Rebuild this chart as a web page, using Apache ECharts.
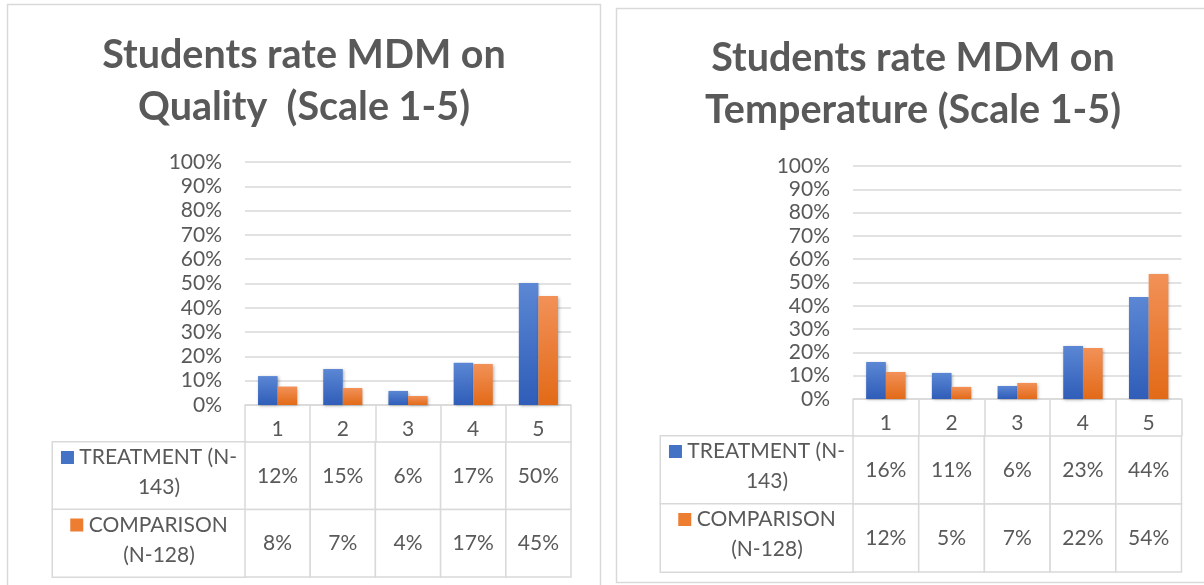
<!DOCTYPE html>
<html>
<head>
<meta charset="utf-8">
<script src="https://cdn.jsdelivr.net/npm/echarts@6/dist/echarts.min.js"></script>
<style>
  html, body { margin: 0; padding: 0; background: #fff; }
  #main { width: 1204px; height: 585px; }
</style>
</head>
<body>
<div id="main"></div>
<script>
var categories = ['1', '2', '3', '4', '5'];
var rowNames = ['TREATMENT (N-\n143)', 'COMPARISON\n(N-128)'];
var titles = ['Students rate MDM on\nQuality  (Scale 1-5)', 'Students rate MDM on\nTemperature (Scale 1-5)'];
// percent values (table shows them rounded)
var qualityTreatment = [11.9, 14.8, 5.8, 17.4, 50.2];
var qualityComparison = [7.6, 7.0, 3.7, 16.9, 44.9];
var tempTreatment = [15.9, 11.2, 5.6, 22.7, 43.8];
var tempComparison = [11.6, 5.2, 6.9, 21.9, 53.6];

var FONT = 'Lato';
var TXT = '#595959';
var LINE = '#d9d9d9';

var blueFill = new echarts.graphic.LinearGradient(0, 0, 0, 1, [
  { offset: 0, color: '#5b87d4' }, { offset: 1, color: '#2f5db8' }
]);
var orangeFill = new echarts.graphic.LinearGradient(0, 0, 0, 1, [
  { offset: 0, color: '#f29158' }, { offset: 1, color: '#e26a17' }
]);

// layout of the two panels
var panels = [
  { frame: [7.5, 4.5, 593, 600], titleX: 304, titleY: 29,
    plot: { left: 245, top: 162, width: 326, height: 243 },
    table: { left: 245, top: 442, width: 326, height: 135 },
    data: [qualityTreatment, qualityComparison] },
  { frame: [616.5, 8.5, 620, 574], titleX: 913, titleY: 32,
    plot: { left: 853, top: 166, width: 328.5, height: 233 },
    table: { left: 853, top: 436, width: 328.5, height: 136 },
    data: [tempTreatment, tempComparison] }
];

function renderCell(params, api) {
  var c = api.coord([api.value(0), api.value(1)]);
  var s = api.size([1, 1]);
  return {
    type: 'group',
    children: [
      { type: 'rect',
        shape: { x: c[0] - s[0] / 2, y: c[1] - s[1] / 2, width: s[0], height: s[1] },
        style: { fill: '#fff', stroke: LINE, lineWidth: 1.5 } },
      { type: 'text', x: c[0], y: c[1],
        style: { text: Math.round(api.value(2)) + '%', align: 'center', verticalAlign: 'middle',
                 fill: TXT, font: '21px ' + FONT } }
    ]
  };
}

var option = {
  animation: false,
  backgroundColor: '#fff',
  textStyle: { fontFamily: FONT },
  title: [],
  graphic: [],
  grid: [],
  xAxis: [],
  yAxis: [],
  series: []
};

panels.forEach(function (p, k) {
  option.graphic.push({
    type: 'rect', z: -10,
    shape: { x: p.frame[0], y: p.frame[1], width: p.frame[2], height: p.frame[3] },
    style: { fill: '#fff', stroke: LINE, lineWidth: 1.5 }
  });
  option.title.push({
    text: titles[k], left: p.titleX, top: p.titleY, textAlign: 'center', padding: 0,
    textStyle: { fontFamily: FONT, fontSize: 39.5, fontWeight: 'bold', color: TXT, lineHeight: 52 }
  });

  // bar plot
  option.grid.push(p.plot);
  var g = option.grid.length - 1;
  option.xAxis.push({
    type: 'category', gridIndex: g, data: categories,
    axisLine: { lineStyle: { color: LINE, width: 1.5 } },
    axisTick: { show: true, length: 37, lineStyle: { color: LINE, width: 1.5 } },
    axisLabel: { color: TXT, fontSize: 21, fontFamily: FONT, margin: 14 }
  });
  option.yAxis.push({
    type: 'value', gridIndex: g, min: 0, max: 100, interval: 10,
    axisLine: { show: false }, axisTick: { show: false },
    axisLabel: { formatter: '{value}%', color: TXT, fontSize: 21, fontFamily: FONT, margin: 23 },
    splitLine: { lineStyle: { color: LINE, width: 1.5 } }
  });
  [blueFill, orangeFill].forEach(function (fill, j) {
    option.series.push({
      type: 'bar', name: rowNames[j], xAxisIndex: g, yAxisIndex: g,
      data: p.data[j], barGap: '0%', barCategoryGap: '40%',
      itemStyle: { color: fill, shadowBlur: 3, shadowColor: 'rgba(0,0,0,0.3)', shadowOffsetX: 1, shadowOffsetY: 1 }
    });
  });

  // data table under the plot
  option.grid.push(p.table);
  var t = option.grid.length - 1;
  option.xAxis.push({
    type: 'category', gridIndex: t, data: categories, show: false
  });
  option.yAxis.push({
    type: 'category', gridIndex: t, data: rowNames, inverse: true,
    axisLine: { show: false }, axisTick: { show: false },
    axisLabel: {
      interval: 0, align: 'center', verticalAlign: 'middle', margin: 96,
      width: 192, height: p.table.height / 2 - 1,
      borderColor: LINE, borderWidth: 1.5, backgroundColor: '#fff',
      formatter: function (value, idx) {
        var parts = value.split('\n');
        return '{sq' + idx + '|}{t| ' + parts[0] + '}\n{t2|' + parts[1] + '}';
      },
      rich: {
        sq0: { width: 13, height: 13, backgroundColor: '#4472c4' },
        sq1: { width: 13, height: 13, backgroundColor: '#ed7d31' },
        t: { fontSize: 21, fontFamily: FONT, color: TXT, lineHeight: 30 },
        t2: { fontSize: 21, fontFamily: FONT, color: TXT, lineHeight: 30, padding: [0, 0, 0, 20] }
      }
    }
  });
  var cells = [];
  p.data.forEach(function (vals, r) {
    vals.forEach(function (v, i) { cells.push([i, r, v]); });
  });
  option.series.push({
    type: 'custom', xAxisIndex: t, yAxisIndex: t, data: cells,
    renderItem: renderCell, silent: true
  });
});

var myChart = echarts.init(document.getElementById('main'));
myChart.setOption(option);
</script>
</body>
</html>
